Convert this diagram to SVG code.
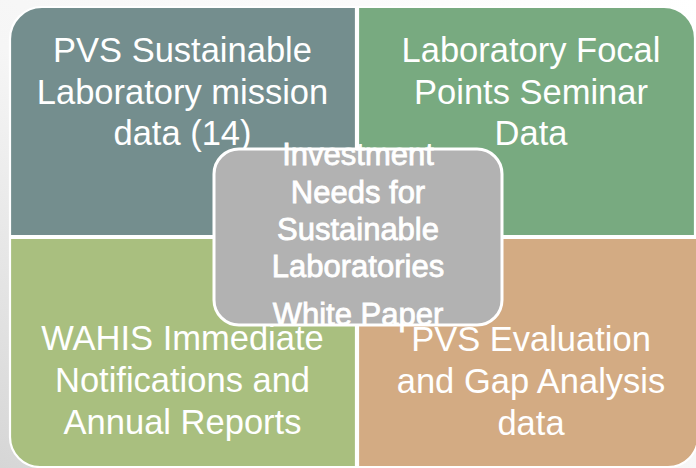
<svg xmlns="http://www.w3.org/2000/svg" width="696" height="468" viewBox="0 0 696 468">
<defs>
<linearGradient id="bg" x1="1" y1="0" x2="0" y2="1">
<stop offset="0" stop-color="#ffffff"/>
<stop offset="0.55" stop-color="#f6f6f6"/>
<stop offset="1" stop-color="#d6d6d6"/>
</linearGradient>
</defs>
<style>
.q{stroke:#ffffff;stroke-width:2.2}
.t{font-family:"Liberation Sans",Arial,sans-serif;font-size:34.5px;fill:#ffffff;text-anchor:middle}
.c{font-family:"Liberation Sans",Arial,sans-serif;font-size:31px;fill:#ffffff;stroke:#ffffff;stroke-width:0.8;text-anchor:middle}
</style>
<rect x="0" y="0" width="696" height="468" fill="url(#bg)"/>
<g id="connectors"></g>
<g id="node-tl">
<path class="q" fill="#748e8e" d="M10,39 A32,32 0 0 1 42,7 L356,7 L356,236 L10,236 Z"/>
<text class="t" x="182.5" y="62">PVS Sustainable</text>
<text class="t" x="182.5" y="103.5">Laboratory mission</text>
<text class="t" x="182.5" y="145">data (14)</text>
</g>
<g id="node-tr">
<path class="q" fill="#78aa80" d="M358,7 L664,7 A31,31 0 0 1 695,38 L695,236 L358,236 Z"/>
<text class="t" x="531" y="62">Laboratory Focal</text>
<text class="t" x="531" y="103.5">Points Seminar</text>
<text class="t" x="531" y="145">Data</text>
</g>
<g id="node-bl">
<path class="q" fill="#a9bf7f" d="M10,238 L356,238 L356,467 L40,467 A30,30 0 0 1 10,437 Z"/>
<text class="t" x="182.5" y="350">WAHIS Immediate</text>
<text class="t" x="182.5" y="392">Notifications and</text>
<text class="t" x="182.5" y="434">Annual Reports</text>
</g>
<g id="node-br">
<path class="q" fill="#d3ab83" d="M358,238 L698,238 L698,437 A30,30 0 0 1 668,467 L358,467 Z"/>
<text class="t" x="531" y="351">PVS Evaluation</text>
<text class="t" x="531" y="393">and Gap Analysis</text>
<text class="t" x="531" y="435">data</text>
</g>
<g id="node-center">
<rect x="214" y="149" width="288" height="176" rx="25" ry="25" fill="#b2b2b2" stroke="#ffffff" stroke-width="3"/>
<text class="c" x="358" y="165">Investment</text>
<text class="c" x="358" y="203">Needs for</text>
<text class="c" x="358" y="240">Sustainable</text>
<text class="c" x="358" y="277">Laboratories</text>
<text class="c" x="358" y="325">White Paper</text>
</g>
</svg>
